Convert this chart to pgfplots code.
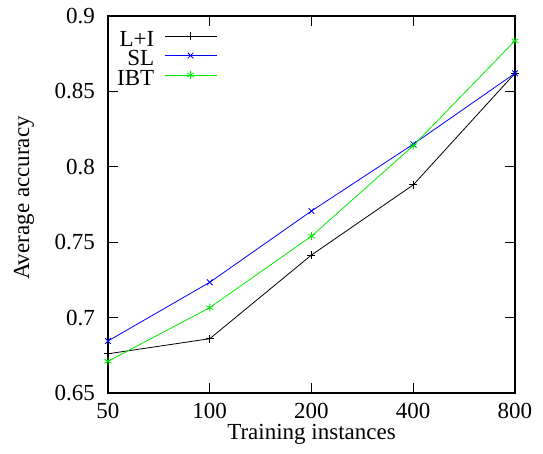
\documentclass[border=0pt]{standalone}
\usepackage{pgfplots}
\pgfplotsset{compat=1.18}
\usepackage{fontspec}
\setmainfont{Liberation Serif}
\definecolor{gpgreen}{RGB}{0,235,0}
\begin{document}
\fontsize{23}{25}\selectfont
\begin{tikzpicture}
\begin{axis}[
  scale only axis,
  width=407pt, height=377pt,
  xmin=0, xmax=4, ymin=0.65, ymax=0.9,
  xtick={0,1,2,3,4},
  xticklabels={50,100,200,400,800},
  ytick={0.65,0.7,0.75,0.8,0.85,0.9},
  /pgf/number format/assume math mode=true,
  yticklabel style={/pgf/number format/fixed, /pgf/number format/precision=2,
    inner sep=0pt, xshift=-13pt},
  xticklabel style={inner sep=0pt, yshift=-10pt},
  tick align=inside,
  major tick length=10pt,
  tick style={line width=0.8pt, black},
  axis line style={line width=1.3pt},
  xlabel={Training instances},
  ylabel={Average accuracy},
  xlabel style={at={([yshift=-31pt]axis description cs:0.5,0)}, anchor=north, inner sep=0pt},
  ylabel style={at={([xshift=-84pt]axis description cs:0,0.517)}, anchor=center},
  ticklabel style={font=\fontsize{23}{25}\selectfont},
  label style={font=\fontsize{23}{25}\selectfont},
  legend style={draw=none, fill=none, at={(0.022,0.960)}, anchor=north west,
    inner sep=0pt, column sep=10pt,
    font=\fontsize{23}{25}\selectfont,
    nodes={inner sep=0pt, text height=15pt, text depth=0pt},
    row sep=4.5pt},
  legend cell align=right,
  legend plot pos=right,
  legend image code/.code={\draw[mark repeat=2,mark phase=2,#1] plot coordinates {(0pt,2.7pt) (26pt,2.7pt) (52pt,2.7pt)};},
  every axis plot/.append style={line width=0.8pt, mark size=4pt},
]
\addplot[black, mark=+] coordinates {(0,0.676) (1,0.686) (2,0.7415) (3,0.788) (4,0.862)};
\addlegendentry{L+I}
\addplot[blue, mark=x] coordinates {(0,0.6845) (1,0.7234) (2,0.7707) (3,0.815) (4,0.862)};
\addlegendentry{SL}
\addplot[gpgreen, mark=asterisk] coordinates {(0,0.671) (1,0.7066) (2,0.754) (3,0.814) (4,0.8836)};
\addlegendentry{IBT}
\end{axis}
\pgfresetboundingbox
\path (current axis.south west) ++(-108pt,-61pt) rectangle ++(543pt,454pt);
\end{tikzpicture}
\end{document}
